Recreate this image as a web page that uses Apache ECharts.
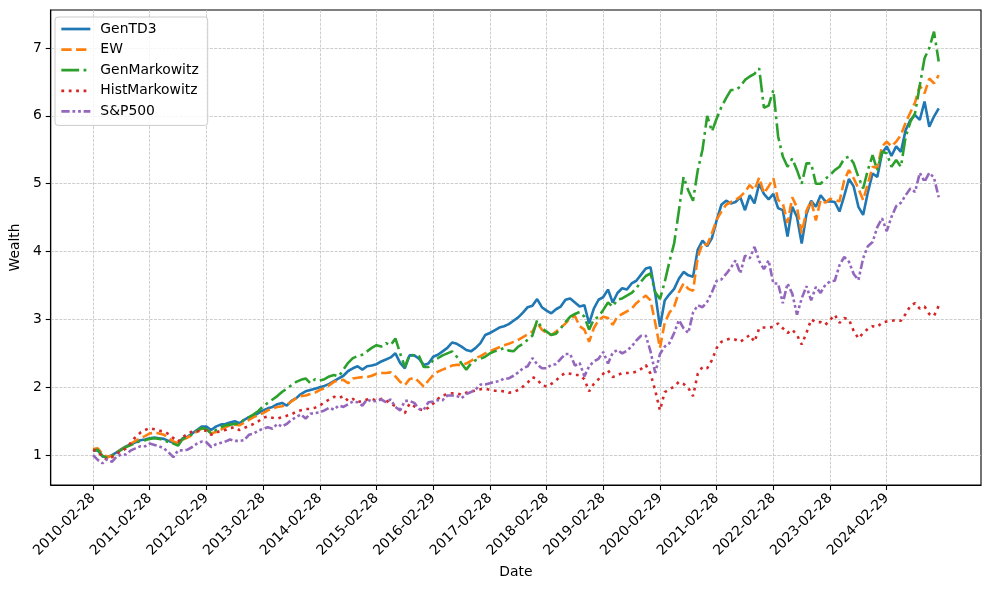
<!DOCTYPE html>
<html>
<head>
<meta charset="utf-8">
<script src="https://cdn.jsdelivr.net/npm/echarts@6/dist/echarts.min.js"></script>
<style>
html,body{margin:0;padding:0;background:#fff;}
#chart{width:990px;height:590px;}
</style>
</head>
<body>
<div id="chart"></div>
<script>
// Tick positions (month index) and their date labels
const tickIdx = [0,12,24,36,48,60,72,84,96,108,120,132,144,156,168];
const tickLabels = ['2010-02-28','2011-02-28','2012-02-29','2013-02-28','2014-02-28','2015-02-28','2016-02-29','2017-02-28','2018-02-28','2019-02-28','2020-02-29','2021-02-28','2022-02-28','2023-02-28','2024-02-29'];
const yTicks = [1,2,3,4,5,6,7];

// Monthly wealth values, one per month from 2010-02 onward
const genTD3 = [1.07,1.07,0.98,0.97,1.00,1.04,1.09,1.13,1.16,1.19,1.22,1.23,1.25,1.26,1.25,1.24,1.21,1.18,1.17,1.25,
1.27,1.32,1.37,1.42,1.42,1.37,1.42,1.45,1.46,1.48,1.50,1.47,1.52,1.56,1.58,1.62,1.66,1.69,1.71,1.75,
1.77,1.73,1.80,1.84,1.90,1.94,1.96,1.98,2.00,2.02,2.05,2.09,2.13,2.17,2.24,2.28,2.31,2.26,2.31,2.32,
2.34,2.38,2.41,2.44,2.50,2.36,2.28,2.47,2.47,2.42,2.33,2.35,2.45,2.48,2.53,2.58,2.66,2.64,2.60,2.55,
2.53,2.58,2.65,2.77,2.80,2.84,2.88,2.90,2.93,2.98,3.03,3.10,3.18,3.20,3.30,3.18,3.13,3.09,3.15,3.19,
3.29,3.31,3.25,3.19,3.21,2.94,3.16,3.29,3.33,3.44,3.25,3.39,3.46,3.44,3.53,3.57,3.66,3.75,3.77,3.38,
2.89,3.28,3.37,3.45,3.60,3.70,3.65,3.63,4.03,4.16,4.08,4.20,4.46,4.69,4.75,4.71,4.73,4.80,4.61,4.83,
4.71,5.00,4.85,4.77,4.85,4.64,4.61,4.22,4.66,4.51,4.12,4.55,4.75,4.66,4.83,4.74,4.74,4.73,4.59,4.82,
5.07,4.96,4.66,4.54,4.87,5.15,5.10,5.45,5.55,5.41,5.55,5.47,5.79,5.94,6.01,5.94,6.21,5.84,5.99,6.11];

const ew = [1.09,1.10,1.02,0.97,0.99,1.04,1.08,1.13,1.17,1.21,1.25,1.28,1.32,1.33,1.32,1.30,1.25,1.20,1.18,1.23,
1.26,1.30,1.35,1.39,1.39,1.32,1.34,1.37,1.41,1.44,1.45,1.44,1.48,1.52,1.56,1.59,1.62,1.66,1.69,1.71,
1.72,1.74,1.79,1.84,1.87,1.88,1.90,1.92,1.96,1.99,2.03,2.08,2.10,2.11,2.06,2.13,2.14,2.15,2.15,2.17,
2.20,2.21,2.21,2.22,2.16,2.08,2.03,2.12,2.14,2.08,2.01,2.10,2.18,2.23,2.26,2.29,2.32,2.33,2.33,2.35,
2.39,2.43,2.46,2.50,2.53,2.56,2.59,2.62,2.64,2.67,2.70,2.74,2.78,2.82,2.95,2.85,2.80,2.77,2.82,2.88,
2.94,3.02,3.05,2.90,2.85,2.67,2.87,2.99,3.04,3.02,2.92,3.04,3.08,3.12,3.16,3.24,3.30,3.35,3.28,2.95,
2.58,2.95,3.10,3.19,3.40,3.53,3.45,3.42,3.92,4.12,4.10,4.27,4.47,4.59,4.69,4.73,4.76,4.81,4.88,4.98,
4.91,5.09,4.86,4.96,5.08,4.76,4.71,4.42,4.80,4.65,4.27,4.60,4.75,4.46,4.76,4.72,4.78,4.76,4.74,5.05,
5.20,5.08,4.93,4.76,5.00,5.25,5.23,5.55,5.62,5.55,5.62,5.72,5.90,6.05,6.20,6.45,6.33,6.55,6.48,6.60];

const genMarkowitz = [1.07,1.08,0.99,0.96,0.99,1.03,1.08,1.12,1.15,1.18,1.21,1.22,1.24,1.25,1.24,1.22,1.19,1.17,1.14,1.24,
1.27,1.31,1.36,1.40,1.38,1.32,1.37,1.41,1.44,1.45,1.46,1.47,1.52,1.56,1.60,1.65,1.72,1.77,1.82,1.87,
1.93,1.98,2.03,2.08,2.11,2.13,2.06,2.12,2.10,2.12,2.16,2.18,2.16,2.26,2.36,2.43,2.46,2.48,2.53,2.58,
2.62,2.60,2.65,2.62,2.72,2.50,2.30,2.48,2.47,2.46,2.30,2.30,2.40,2.43,2.47,2.50,2.53,2.45,2.35,2.26,
2.35,2.40,2.42,2.45,2.50,2.53,2.55,2.58,2.54,2.53,2.60,2.64,2.70,2.76,2.99,2.87,2.82,2.77,2.79,2.87,
2.96,3.04,3.08,3.11,3.04,2.85,3.00,3.04,3.14,3.25,3.19,3.29,3.31,3.35,3.39,3.46,3.56,3.64,3.68,3.40,
3.30,3.55,3.85,4.12,4.60,5.10,4.90,4.75,5.20,5.50,6.00,5.77,5.96,6.13,6.26,6.38,6.38,6.43,6.53,6.58,
6.62,6.70,6.12,6.15,6.38,5.70,5.40,5.25,5.37,5.20,5.00,5.30,5.30,5.00,5.00,5.07,5.13,5.20,5.25,5.37,
5.40,5.30,5.10,4.93,5.20,5.42,5.20,5.47,5.45,5.25,5.35,5.25,5.69,5.91,6.04,6.45,6.85,7.00,7.24,6.80];

const histMarkowitz = [1.08,1.05,0.98,0.93,0.97,1.02,1.06,1.10,1.18,1.27,1.33,1.37,1.40,1.38,1.36,1.35,1.31,1.25,1.20,1.27,
1.31,1.35,1.35,1.36,1.36,1.30,1.33,1.36,1.37,1.40,1.41,1.37,1.40,1.43,1.46,1.50,1.55,1.57,1.55,1.54,
1.56,1.58,1.60,1.64,1.66,1.68,1.68,1.70,1.73,1.78,1.82,1.86,1.84,1.87,1.80,1.83,1.78,1.80,1.82,1.83,
1.80,1.83,1.81,1.76,1.72,1.67,1.62,1.76,1.72,1.68,1.66,1.70,1.76,1.83,1.88,1.90,1.91,1.91,1.89,1.92,
1.94,1.95,1.97,1.98,1.96,1.95,1.95,1.94,1.92,1.93,1.96,2.01,2.07,2.15,2.12,2.03,2.01,2.05,2.10,2.17,
2.21,2.20,2.18,2.18,2.12,1.94,2.05,2.12,2.20,2.25,2.15,2.18,2.21,2.21,2.21,2.23,2.27,2.33,2.20,1.95,
1.66,1.93,1.97,2.01,2.08,2.05,1.99,1.87,2.20,2.30,2.28,2.40,2.58,2.67,2.70,2.72,2.70,2.67,2.72,2.77,
2.67,2.87,2.88,2.88,2.89,2.94,2.87,2.80,2.85,2.77,2.63,2.80,3.00,2.96,2.96,2.92,2.99,3.07,2.95,3.02,
3.00,2.83,2.72,2.80,2.86,2.90,2.89,2.95,2.97,2.98,2.99,2.98,3.08,3.20,3.24,3.16,3.19,3.08,3.05,3.20];

const sp500 = [1.00,0.93,0.88,0.94,0.90,0.98,1.01,1.01,1.07,1.10,1.13,1.13,1.17,1.15,1.13,1.10,1.04,0.97,1.07,1.07,
1.08,1.12,1.17,1.20,1.19,1.12,1.16,1.18,1.20,1.23,1.21,1.21,1.22,1.30,1.32,1.36,1.39,1.41,1.39,1.46,
1.42,1.46,1.52,1.56,1.60,1.54,1.61,1.62,1.63,1.66,1.70,1.67,1.73,1.71,1.75,1.79,1.78,1.73,1.82,1.79,
1.80,1.82,1.78,1.82,1.71,1.66,1.80,1.80,1.77,1.68,1.67,1.78,1.79,1.81,1.81,1.88,1.88,1.87,1.84,1.90,
1.93,1.97,2.04,2.04,2.06,2.08,2.09,2.13,2.13,2.17,2.22,2.28,2.31,2.43,2.34,2.28,2.28,2.33,2.34,2.42,
2.49,2.49,2.32,2.36,2.16,2.31,2.38,2.42,2.52,2.35,2.51,2.55,2.50,2.54,2.60,2.69,2.76,2.76,2.53,2.21,
2.49,2.60,2.65,2.80,2.99,2.87,2.80,3.10,3.21,3.18,3.26,3.40,3.57,3.59,3.67,3.76,3.87,3.68,3.94,3.90,
4.07,3.86,3.74,3.87,3.53,3.53,3.24,3.53,3.38,3.07,3.31,3.49,3.28,3.48,3.39,3.51,3.56,3.57,3.80,3.92,
3.85,3.67,3.58,3.90,4.08,4.14,4.36,4.49,4.30,4.51,4.67,4.72,4.83,4.93,4.88,5.16,5.03,5.16,5.09,4.80];

const seriesNames = ['GenTD3','EW','GenMarkowitz','HistMarkowitz','S&P500'];
const seriesValues = [genTD3, ew, genMarkowitz, histMarkowitz, sp500];
const seriesColors = ['#1f77b4','#ff7f0e','#2ca02c','#d62728','#9467bd'];
const seriesDash = ['solid',[10.3,4.4],[17.8,4.4,2.8,4.4],[2.8,4.6],[8.3,2.8,2.8,2.8,2.8,2.8]];

const FONT = 'DejaVu Sans';
const FS = 13.9;
const gridLine = {show:true, lineStyle:{color:'#c2c2c2', width:0.8, type:[3,1.3]}};

const chart = echarts.init(document.getElementById('chart'), null, {renderer:'canvas'});
chart.setOption({
  animation:false,
  backgroundColor:'#ffffff',
  textStyle:{fontFamily:FONT},
  grid:{left:49, right:9, top:10, bottom:105, show:true, borderColor:'#000', borderWidth:1.1},
  legend:{
    left:55, top:17, orient:'vertical',
    itemWidth:29, itemHeight:14, itemGap:6.6,
    padding:[5,9,7,5],
    backgroundColor:'rgba(255,255,255,0.8)', borderColor:'#cccccc', borderWidth:1, borderRadius:3,
    textStyle:{fontFamily:FONT, fontSize:FS, color:'#000', padding:[0,0,0,5]},
    itemStyle:{opacity:0},
    lineStyle:{width:2.7},
    data:seriesNames
  },
  xAxis:{
    type:'value', min:-8.95, max:187.95,
    name:'Date', nameLocation:'middle', nameGap:80,
    nameTextStyle:{fontFamily:FONT, fontSize:FS, color:'#000'},
    axisLine:{show:true, onZero:false, lineStyle:{color:'#000', width:1.1}},
    axisTick:{show:true, length:5, customValues:tickIdx, lineStyle:{color:'#000', width:1.1}},
    axisLabel:{customValues:tickIdx, rotate:45, margin:11, color:'#000', fontFamily:FONT, fontSize:FS,
      formatter:(v)=>{const k=tickIdx.indexOf(Math.round(v)); return k>=0?tickLabels[k]:'';}},
    splitLine:gridLine
  },
  yAxis:{
    type:'value', min:0.56, max:7.56,
    name:'Wealth', nameLocation:'middle', nameGap:27, nameRotate:90,
    nameTextStyle:{fontFamily:FONT, fontSize:FS, color:'#000'},
    axisLine:{show:true, onZero:false, lineStyle:{color:'#000', width:1.1}},
    axisTick:{show:true, length:5, customValues:yTicks, lineStyle:{color:'#000', width:1.1}},
    axisLabel:{customValues:yTicks, margin:9, color:'#000', fontFamily:FONT, fontSize:FS,
      formatter:(v)=>String(Math.round(v))},
    splitLine:gridLine
  },
  series: seriesNames.map((n,k)=>({
    name:n, type:'line', symbol:'none', showSymbol:false,
    data: seriesValues[k].map((v,i)=>[i,v]),
    lineStyle:{color:seriesColors[k], width:2.6, type:seriesDash[k]},
    itemStyle:{color:seriesColors[k]},
    emphasis:{disabled:true}
  }))
});
</script>
</body>
</html>
